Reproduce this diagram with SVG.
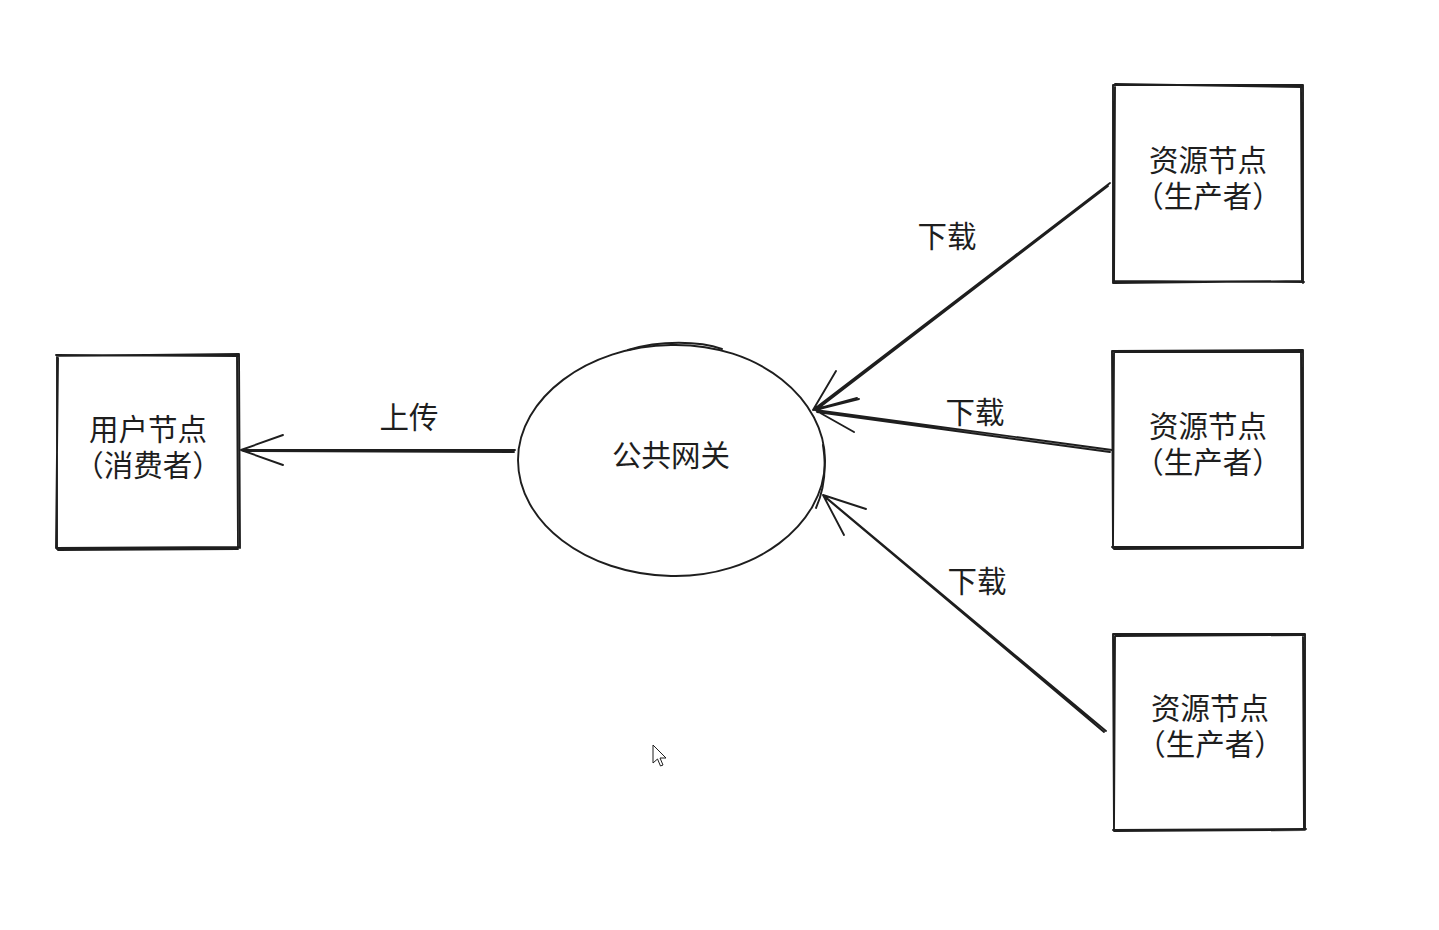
<svg xmlns="http://www.w3.org/2000/svg" width="1439" height="930" viewBox="0 0 1439 930">
<style>
.s{fill:none;stroke:#1e1e1e;stroke-width:1.9;stroke-linecap:round;stroke-linejoin:round}
.t{font-family:"Liberation Sans","Noto Sans CJK SC",sans-serif;font-size:29.5px;fill:#1e1e1e;text-anchor:middle}
</style>
<rect width="1439" height="930" fill="#ffffff"/>
<g id="user-node">
<path class="s" d="M57,356 L239,354 M56,355 L238,356 M239,354 L240,548 M237,356 L238,547 M57,355 L57,549 M58,358 L56,548 M56,548 L240,547 M58,550 L238,549"/>
<text class="t"><tspan x="148" y="440">用户节点</tspan><tspan x="148" y="476">（消费者）</tspan></text>
</g>
<g id="gateway">
<path class="s" d="M671,345 C760,343 826,400 825,462 C824,525 755,578 671,576 C585,574 518,522 518,460 C518,398 588,346 671,345 Z"/>
<path class="s" d="M628,350 C660,340 700,341 722,349 M823,445 C827,470 824,490 816,508"/>
<text class="t" x="671" y="466">公共网关</text>
</g>
<g id="producer-1">
<path class="s" d="M1113,85 L1303,85 M1115,84 L1302,87 M1303,85 L1303,283 M1301,87 L1302,281 M1113,85 L1113,283 M1115,87 L1114,282 M1113,281 L1304,282 M1114,283 L1302,281"/>
<text class="t"><tspan x="1208" y="171">资源节点</tspan><tspan x="1208" y="207">（生产者）</tspan></text>
</g>
<g id="producer-2">
<path class="s" d="M1112,351 L1303,350 M1114,352 L1302,352 M1303,350 L1303,548 M1301,352 L1302,547 M1112,351 L1113,548 M1114,353 L1113,546 M1112,547 L1303,547 M1114,549 L1302,548"/>
<text class="t"><tspan x="1208" y="437">资源节点</tspan><tspan x="1208" y="473">（生产者）</tspan></text>
</g>
<g id="producer-3">
<path class="s" d="M1113,634 L1305,634 M1115,636 L1304,635 M1305,634 L1305,830 M1303,636 L1304,829 M1113,634 L1114,831 M1115,636 L1114,829 M1113,830 L1306,829 M1114,831 L1304,830"/>
<text class="t"><tspan x="1210" y="719">资源节点</tspan><tspan x="1210" y="755">（生产者）</tspan></text>
</g>
<g id="connectors">
<path class="s" d="M515,450 L241,450 M514,452 L243,451 M241,450 L283,435 M241,450 L283,465"/>
<path class="s" d="M1110,183 L813,410 M1108,186 L816,410 M813,410 L836,371 M813,410 L857,398"/>
<path class="s" d="M1112,450 L815,410 M1110,452 L817,412 M815,410 L859,399 M815,410 L854,432"/>
<path class="s" d="M1106,731 L823,495 M1104,732 L825,497 M823,495 L866,509 M823,495 L844,535"/>
<text class="t" x="409" y="428">上传</text>
<text class="t" x="947" y="247">下载</text>
<text class="t" x="975" y="423">下载</text>
<text class="t" x="977" y="592">下载</text>
</g>
<path d="M653,745 L653,763 L657.5,759 L660.5,766 L663,765 L660,758 L666,758 Z" fill="#ffffff" stroke="#1e1e1e" stroke-width="1"/>
</svg>
